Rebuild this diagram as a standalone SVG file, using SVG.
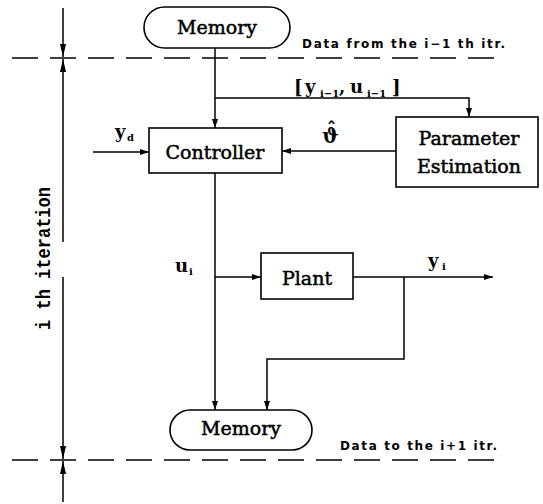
<svg xmlns="http://www.w3.org/2000/svg" width="543" height="504" viewBox="0 0 543 504">
<defs>
<style>
.ln{fill:none;stroke:#000;stroke-width:1.5}
.dash{fill:none;stroke:#000;stroke-width:1.5;stroke-dasharray:26 12}
.box{fill:#fff;stroke:#000;stroke-width:1.6}
.t{font-family:"DejaVu Serif",serif;font-size:19px;fill:#000;stroke:#000;stroke-width:0.5;text-anchor:middle}
.lb{font-family:"DejaVu Serif",serif;font-size:18px;font-weight:bold;fill:#000}
.sub{font-size:10px}
.note{font-family:"DejaVu Sans",sans-serif;font-size:12px;font-weight:bold;fill:#000}
.side{font-family:"Liberation Mono",monospace;font-size:20px;font-weight:bold;fill:#000;text-anchor:middle}
</style>
<marker id="ah" markerUnits="userSpaceOnUse" markerWidth="9" markerHeight="6" refX="9" refY="3" orient="auto">
<path d="M0,0 L9,3 L0,6 z" fill="#000"/>
</marker>
<marker id="ahb" markerUnits="userSpaceOnUse" markerWidth="13" markerHeight="6" refX="13" refY="3" orient="auto">
<path d="M0,0 L13,3 L0,6 z" fill="#000"/>
</marker>
</defs>
<rect width="543" height="504" fill="#fff"/>

<g id="boundaries">
<path class="dash" d="M12,58 H495"/>
<path class="dash" d="M12,460 H497"/>
<text class="note" x="302" y="48" textLength="203" lengthAdjust="spacing">Data from the i−1 th itr.</text>
<text class="note" x="340" y="450" textLength="157" lengthAdjust="spacing">Data to the i+1 itr.</text>
</g>

<g id="iteration-axis">
<path class="ln" d="M63,8 V57" marker-end="url(#ahb)"/>
<path class="ln" d="M63,242 V59" marker-end="url(#ahb)"/>
<path class="ln" d="M63,277 V459" marker-end="url(#ahb)"/>
<path class="ln" d="M63,502 V461" marker-end="url(#ahb)"/>
<text class="side" x="0" y="0" transform="translate(50 258.5) rotate(-90)" textLength="143" lengthAdjust="spacingAndGlyphs">i th iteration</text>
</g>

<g id="connectors">
<path class="ln" d="M215,48 V128" marker-end="url(#ah)"/>
<path class="ln" d="M215,98 H469 V117" marker-end="url(#ah)"/>
<path class="ln" d="M396,151 H282" marker-end="url(#ah)"/>
<path class="ln" d="M93,152 H149" marker-end="url(#ah)"/>
<path class="ln" d="M215,173 V410" marker-end="url(#ah)"/>
<path class="ln" d="M215,277 H261" marker-end="url(#ah)"/>
<path class="ln" d="M353,277 H493" marker-end="url(#ah)"/>
<path class="ln" d="M404,277 V359 H267 V410" marker-end="url(#ah)"/>
<text class="lb" y="93"><tspan x="294">[</tspan><tspan x="305">y</tspan><tspan class="sub" x="320" dy="4">i−1</tspan><tspan x="339" dy="-4">,</tspan><tspan x="350">u</tspan><tspan class="sub" x="367" dy="4">i−1</tspan><tspan x="392" dy="-4">]</tspan></text>
<text class="lb" y="138"><tspan x="115">y</tspan><tspan class="sub" x="127" dy="3">d</tspan></text>
<text class="lb" y="143" style="font-size:20px"><tspan x="322">ϑ</tspan><tspan x="327" y="136" style="font-size:18px">ˆ</tspan></text>
<text class="lb" y="272"><tspan x="175">u</tspan><tspan class="sub" x="189" dy="3">i</tspan></text>
<text class="lb" y="267"><tspan x="428">y</tspan><tspan class="sub" x="442" dy="3">i</tspan></text>
</g>

<g id="memory-top">
<rect class="box" x="144" y="7" width="146" height="41" rx="20.5"/>
<text class="t" x="217" y="34">Memory</text>
</g>

<g id="controller">
<rect class="box" x="149" y="128" width="133" height="45"/>
<text class="t" x="215" y="159">Controller</text>
</g>

<g id="parameter-estimation">
<rect class="box" x="396" y="117" width="142" height="70"/>
<text class="t" x="469" y="145">Parameter</text>
<text class="t" x="469" y="173">Estimation</text>
</g>

<g id="plant">
<rect class="box" x="261" y="253" width="92" height="46"/>
<text class="t" x="307" y="285">Plant</text>
</g>

<g id="memory-bottom">
<rect class="box" x="170" y="410" width="142" height="40" rx="20"/>
<text class="t" x="241" y="435">Memory</text>
</g>
</svg>
